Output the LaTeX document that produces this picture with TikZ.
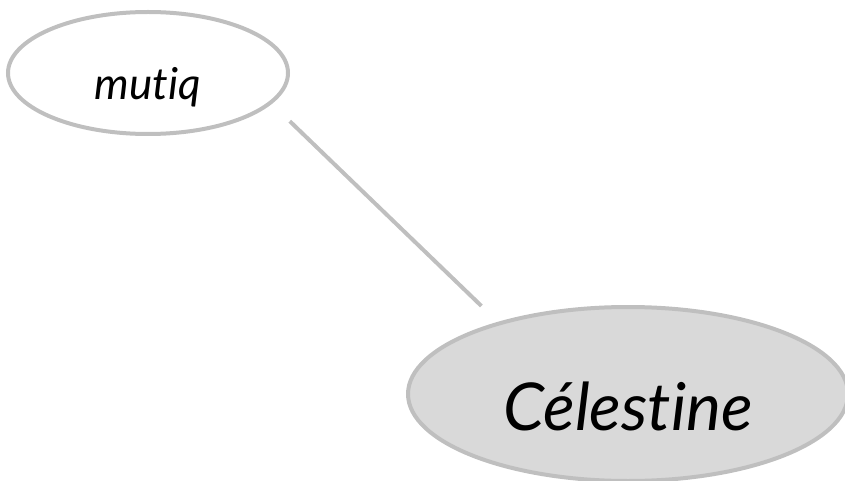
\documentclass[tikz,border=0pt]{standalone}
\usepackage{fontspec}
\setmainfont[Ligatures=NoCommon]{Lato}
\usepackage{tikz}
\usetikzlibrary{shapes.geometric}
\definecolor{rimgray}{HTML}{BFBFBF}
\definecolor{fillgray}{HTML}{D9D9D9}
\tikzset{
  bubble/.style={ellipse,draw=rimgray,line width=4pt,inner sep=0pt,text depth=0pt,font=\itshape},
  link/.style={draw=rimgray,line width=4pt}
}
\begin{document}
\begin{tikzpicture}[x=1pt,y=1pt]
\useasboundingbox (0,0) rectangle (845,-481);
\node[bubble,minimum width=280pt,minimum height=122pt,text height=54pt,font=\itshape\fontsize{44}{46}\selectfont] (mutiq) at (148,-73) {mutiq};
\node[bubble,fill=fillgray,minimum width=440pt,minimum height=174pt,text height=72pt,font=\itshape\fontsize{66}{70}\selectfont] (celestine) at (628,-394) {Célestine};
\draw[link,shorten <=25pt,shorten >=23pt] (mutiq.-14.4) -- (celestine.151.5);
\end{tikzpicture}
\end{document}
